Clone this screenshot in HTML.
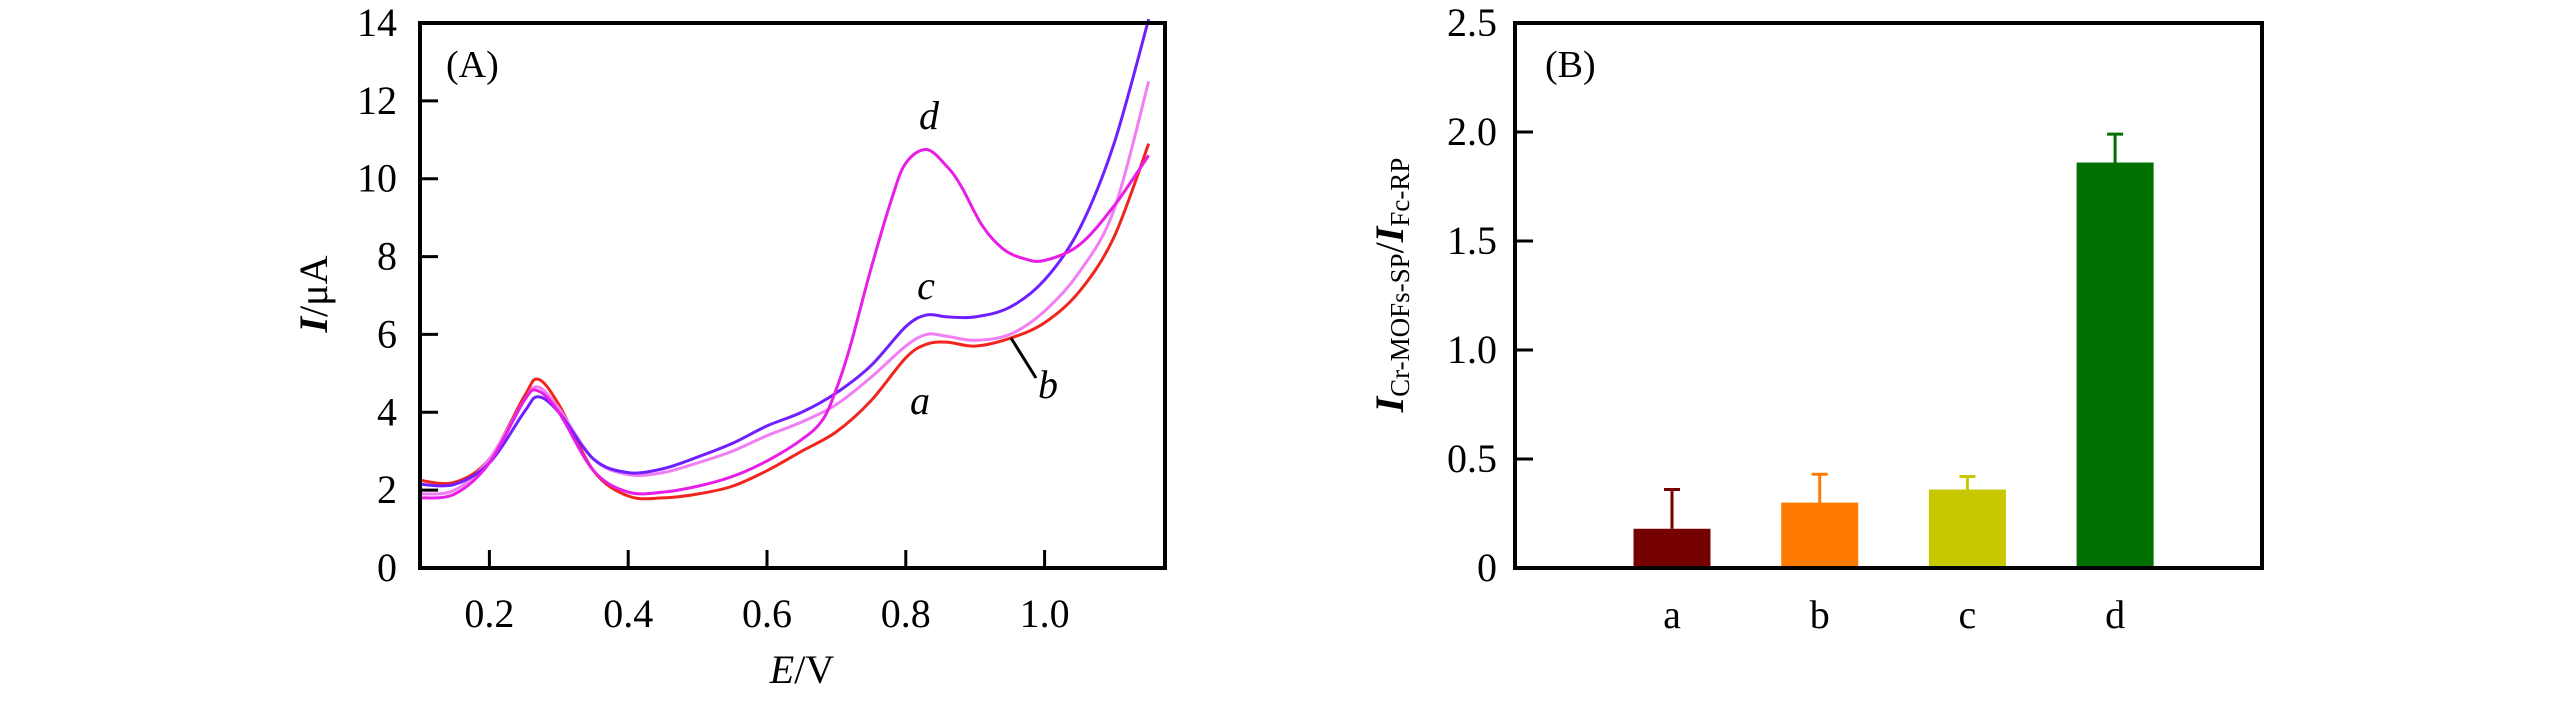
<!DOCTYPE html>
<html><head><meta charset="utf-8"><style>
html,body{margin:0;padding:0;background:#fff;}
svg{display:block;font-family:"Liberation Serif",serif;}
</style></head><body>
<svg id="chart" width="2567" height="709" viewBox="0 0 2567 709" xmlns="http://www.w3.org/2000/svg">
<g id="pa"></g>
<g id="pb"></g>
</svg>
<script>
// Panel A data
const xsA = [0.1,0.15,0.2,0.25,0.27,0.3,0.35,0.4,0.45,0.5,0.55,0.6,0.65,0.7,0.75,0.8,0.83,0.86,0.9,0.95,1.0,1.05,1.1,1.15];
const curveA = [2.25,2.2,2.8,4.4,4.85,4.2,2.5,1.85,1.8,1.9,2.1,2.5,3.0,3.5,4.3,5.4,5.75,5.8,5.7,5.9,6.3,7.1,8.5,10.9];
const curveB = [1.9,2.0,2.8,4.3,4.65,4.1,2.8,2.4,2.45,2.7,3.0,3.4,3.75,4.2,4.9,5.7,6.0,5.95,5.85,6.0,6.6,7.6,9.2,12.5];
const curveC = [2.15,2.15,2.7,4.0,4.4,4.0,2.8,2.45,2.55,2.85,3.2,3.65,4.0,4.5,5.2,6.2,6.5,6.45,6.45,6.7,7.4,8.7,10.9,14.1];
const xsD = [0.1,0.15,0.2,0.25,0.27,0.3,0.35,0.4,0.45,0.5,0.55,0.6,0.65,0.68,0.7,0.72,0.75,0.78,0.8,0.83,0.86,0.88,0.91,0.94,0.97,1.0,1.05,1.1,1.15];
const curveD = [1.8,1.9,2.7,4.3,4.55,4.0,2.5,1.95,1.95,2.1,2.35,2.75,3.3,3.8,4.6,5.7,7.7,9.5,10.4,10.75,10.3,9.8,8.8,8.2,7.95,7.9,8.3,9.3,10.6];
const xTicksA = [0.2,0.4,0.6,0.8,1.0];
const xTickLabelsA = ["0.2","0.4","0.6","0.8","1.0"];
const yTicksA = [0,2,4,6,8,10,12,14];
// Panel B data
const catsB = ["a","b","c","d"];
const valsB = [0.18,0.30,0.36,1.86];
const errsB = [0.18,0.13,0.06,0.13];
const yTicksB = [0,0.5,1.0,1.5,2.0,2.5];
const yTickLabelsB = ["0","0.5","1.0","1.5","2.0","2.5"];

const NS="http://www.w3.org/2000/svg";
function mk(parent,tag,attrs,text){const e=document.createElementNS(NS,tag);for(const k in attrs)e.setAttribute(k,attrs[k]);if(text!==undefined)e.textContent=text;parent.appendChild(e);return e;}

// ---- Panel A ----
const pa=document.getElementById('pa');
const AL=420,AR=1165,AT=23,AB=568;
const xA=v=>AL+(v-0.1)*(AR-AL)/1.0735;
const yA=v=>AB-v*(AB-AT)/14;
function smoothPath(xs,ys){
  const p=xs.map((x,i)=>[xA(x),yA(ys[i])]);
  let d="M"+p[0][0]+","+p[0][1];
  for(let i=0;i<p.length-1;i++){
    const p0=p[i-1]||p[i],p1=p[i],p2=p[i+1],p3=p[i+2]||p2;
    const c1=[p1[0]+(p2[0]-p0[0])/6,p1[1]+(p2[1]-p0[1])/6];
    const c2=[p2[0]-(p3[0]-p1[0])/6,p2[1]-(p3[1]-p1[1])/6];
    d+=" C"+c1[0]+","+c1[1]+" "+c2[0]+","+c2[1]+" "+p2[0]+","+p2[1];
  }
  return d;
}
const series=[[xsA,curveA,"#f0261e","curve-a"],[xsA,curveB,"#f27ef5","curve-b"],[xsA,curveC,"#7020ff","curve-c"],[xsD,curveD,"#e81ee8","curve-d"]];
series.forEach(s=>{
  const el=mk(pa,'path',{d:smoothPath(s[0],s[1]),fill:"none",stroke:s[2],"stroke-width":3});
  
  
});
yTicksA.forEach(t=>{
  const y=yA(t);
  if(t>0&&t<14){const tk=mk(pa,'line',{x1:AL,x2:AL+18,y1:y,y2:y,stroke:"#000","stroke-width":3});
  
  }
  const lb=mk(pa,'text',{x:397,y:y+13,"text-anchor":"end","font-size":40},String(t));
  
  
});
xTicksA.forEach((t,i)=>{
  const x=xA(t);
  const tk=mk(pa,'line',{x1:x,x2:x,y1:AB,y2:AB-18,stroke:"#000","stroke-width":3});
  
  
  const lb=mk(pa,'text',{x:x,y:627,"text-anchor":"middle","font-size":40},xTickLabelsA[i]);
  
  
});
const fa=mk(pa,'rect',{x:AL,y:AT,width:AR-AL,height:AB-AT,fill:"none",stroke:"#000","stroke-width":4});


const ta=mk(pa,'text',{x:446,y:77,"font-size":38},"(A)");


const lbls=[["d",929,129],["c",926,299],["a",920,414],["b",1048,398]];
lbls.forEach(l=>{
  const t=mk(pa,'text',{x:l[1],y:l[2],"font-size":40,"font-style":"italic","text-anchor":"middle"},l[0]);
  
  
});
const ld=mk(pa,'line',{x1:1011,y1:338,x2:1036,y2:378,stroke:"#000","stroke-width":3});


const xt=mk(pa,'text',{x:802,y:683,"font-size":40,"text-anchor":"middle"});


mk(xt,'tspan',{"font-style":"italic"},"E");mk(xt,'tspan',{},"/V");
const yt=mk(pa,'text',{x:0,y:0,"font-size":40,"text-anchor":"middle",transform:"translate(327,294) rotate(-90)"});


mk(yt,'tspan',{"font-style":"italic","font-weight":"bold"},"I");mk(yt,'tspan',{},"/μA");

// ---- Panel B ----
const pb=document.getElementById('pb');
const BL=1515,BR=2262,BT=23,BB=568;
const yB=v=>BB-v*(BB-BT)/2.5;
const barColors=["#750000","#ff7a00","#c8c800","#007000"];
const xB=i=>1672+i*147.7;
catsB.forEach((c,i)=>{
  const cx=xB(i),w=77;
  const b=mk(pb,'rect',{x:cx-w/2,y:yB(valsB[i]),width:w,height:BB-yB(valsB[i]),fill:barColors[i]});
  
  
  const e=mk(pb,'path',{d:"M"+cx+","+yB(valsB[i])+" V"+yB(valsB[i]+errsB[i])+" M"+(cx-8)+","+yB(valsB[i]+errsB[i])+" H"+(cx+8),stroke:barColors[i],"stroke-width":3,fill:"none"});
  
  
  const l=mk(pb,'text',{x:cx,y:628,"font-size":40,"text-anchor":"middle"},c);
  
  
});
yTicksB.forEach((t,i)=>{
  const y=yB(t);
  if(t>0&&t<2.5){const tk=mk(pb,'line',{x1:BL,x2:BL+18,y1:y,y2:y,stroke:"#000","stroke-width":3});
  
  }
  const lb=mk(pb,'text',{x:1497,y:y+13,"text-anchor":"end","font-size":40},yTickLabelsB[i]);
  
  
});
const fb=mk(pb,'rect',{x:BL,y:BT,width:BR-BL,height:BB-BT,fill:"none",stroke:"#000","stroke-width":4});


const tb=mk(pb,'text',{x:1545,y:77,"font-size":38},"(B)");


const ytb=mk(pb,'text',{x:0,y:0,"font-size":40,"text-anchor":"middle",transform:"translate(1403,285) rotate(-90)"});


mk(ytb,'tspan',{"font-style":"italic","font-weight":"bold"},"I");
mk(ytb,'tspan',{"font-size":27,dy:6},"Cr-MOFs-SP");
mk(ytb,'tspan',{dy:-6},"/");
mk(ytb,'tspan',{"font-style":"italic","font-weight":"bold"},"I");
mk(ytb,'tspan',{"font-size":27,dy:6},"Fc-RP");
</script>
</body></html>
